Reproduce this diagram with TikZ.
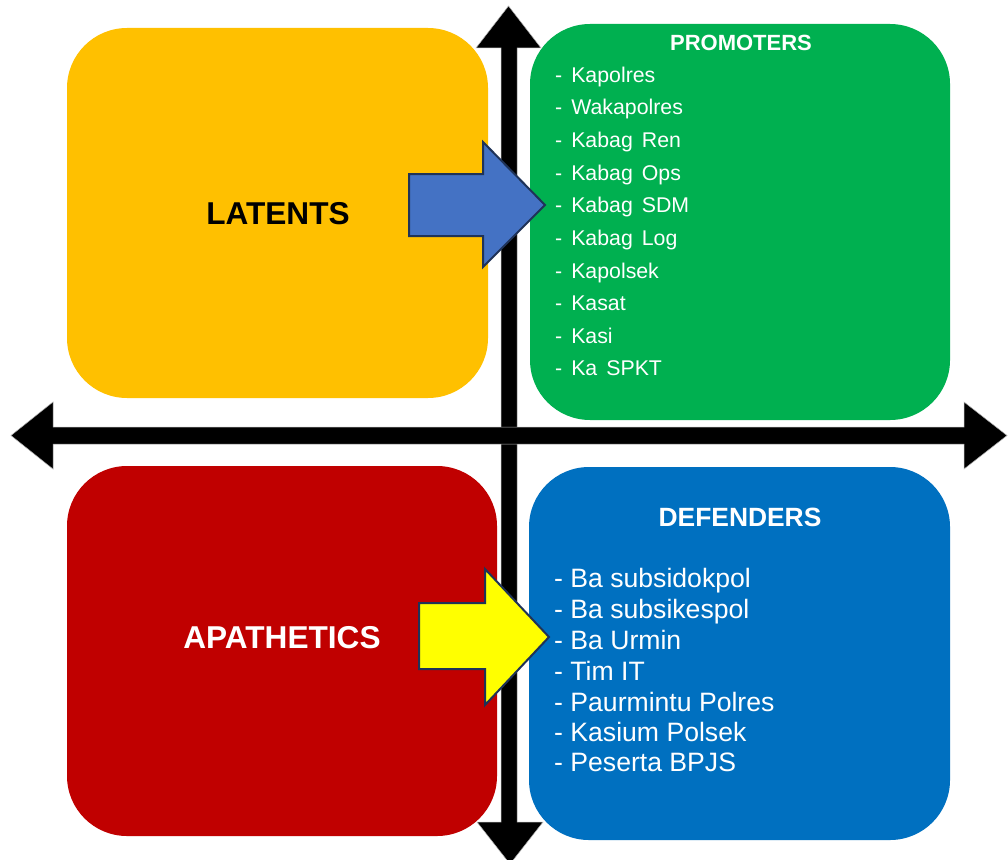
\documentclass[tikz,border=0pt]{standalone}
\usepackage{fontspec}
\setmainfont{Liberation Sans}
\definecolor{latY}{HTML}{FFC000}
\definecolor{proG}{HTML}{00B050}
\definecolor{apaR}{HTML}{C00000}
\definecolor{defB}{HTML}{0070C0}
\definecolor{arrB}{HTML}{4472C4}
\definecolor{arrY}{HTML}{FFFF00}
\definecolor{arrEdge}{HTML}{1F3358}
\tikzset{
  quad/.style={rounded corners=60pt, inner sep=0pt, draw=none},
  axis/.style={fill=black, draw=gray!60, line width=0.5pt},
  blockarrow/.style={draw=arrEdge, line width=2pt, line join=miter},
  title/.style={font=\bfseries\fontsize{31.6}{37}\selectfont, inner sep=0pt},
  head/.style={font=\bfseries\fontsize{22}{26}\selectfont, text=white, inner sep=0pt},
  headb/.style={font=\bfseries\fontsize{26.4}{30}\selectfont, text=white, inner sep=0pt},
  gitem/.style={font=\fontsize{21.3}{25}\selectfont, text=white, anchor=base west, inner sep=0pt},
  bitem/.style={font=\fontsize{26.6}{30}\selectfont, text=white, anchor=base west, inner sep=0pt}
}
\begin{document}
\begin{tikzpicture}[x=1pt,y=-1pt]
\clip (0,0) rectangle (1008,859);
\fill[white] (0,0) rectangle (1008,859);
% quadrants
\node[quad, fill=latY, minimum width=421pt, minimum height=370pt] (lat) at (277.5,213) {};
\node[quad, fill=proG, minimum width=420pt, minimum height=396pt] (pro) at (740,222) {};
\node[quad, fill=apaR, minimum width=430pt, minimum height=370pt] (apa) at (282,651) {};
\node[quad, fill=defB, minimum width=421pt, minimum height=373pt] (def) at (739.5,653.5) {};
% axes
\draw[axis] (501,48) -- (476,48) -- (508.5,6) -- (541,48) -- (517,48)
  -- (517,822) -- (543,822) -- (510,864) -- (477,822) -- (501,822) -- cycle;
\draw[axis] (53,427) -- (53,402) -- (11,435.5) -- (53,469) -- (53,444)
  -- (964,444) -- (964,469) -- (1007,435.5) -- (964,402) -- (964,427) -- cycle;
% block arrows
\draw[blockarrow, fill=arrB] (409,174) -- (483,174) -- (483,142) -- (545,205)
  -- (483,267) -- (483,236) -- (409,236) -- cycle;
\draw[blockarrow, fill=arrY] (419,603) -- (485,603) -- (485,569) -- (549,637)
  -- (485,705) -- (485,669) -- (419,669) -- cycle;
% titles
\node[title] (latT) at (278,214) {LATENTS};
\node[title, text=white] (apaT) at (282,638) {APATHETICS};
\node[head] (proT) at (741,43) {PROMOTERS};
\node[headb] (defT) at (740,517) {DEFENDERS};
% promoters list
\foreach \t/\y [count=\i] in {Kapolres/75, Wakapolres/107, Kabag Ren/140, Kabag Ops/173, Kabag SDM/205, Kabag Log/238, Kapolsek/271, Kasat/303, Kasi/336, Ka SPKT/368}
  \node[gitem] (p\i) at (555,\y+7.6) {\spaceskip=9pt\relax - \t};
% defenders list
\foreach \t/\y [count=\i] in {Ba subsidokpol/578, Ba subsikespol/609, Ba Urmin/640, Tim IT/671, Paurmintu Polres/702, Kasium Polsek/732, Peserta BPJS/762}
  \node[bitem] (d\i) at (554,\y+9.5) {- \t};
\end{tikzpicture}
\end{document}
